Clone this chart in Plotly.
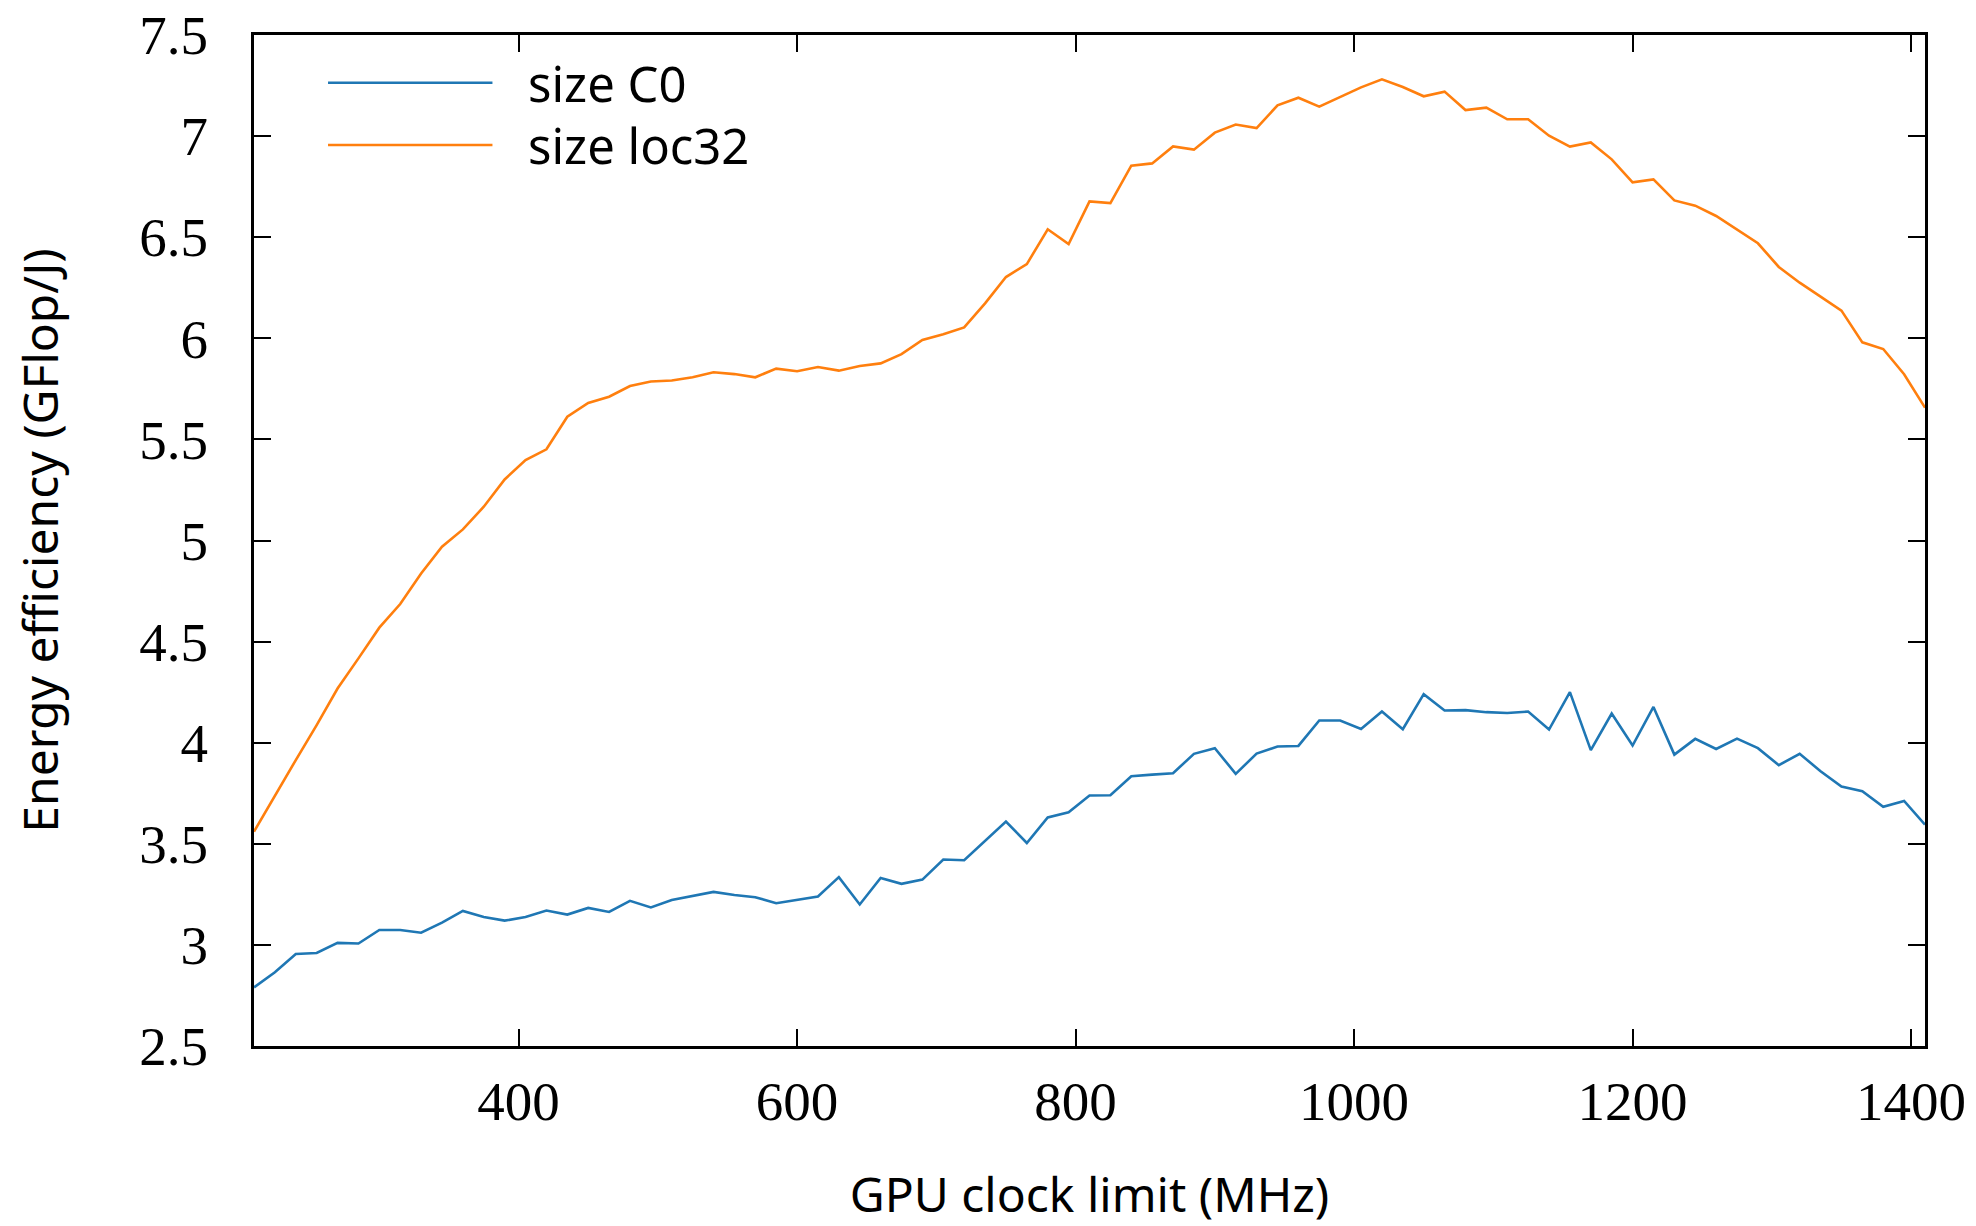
import plotly.graph_objects as go

# GPU clock limits (MHz)
clock_mhz = [210, 225, 240, 255, 270, 285, 300, 315, 330, 345, 360, 375, 390, 405, 420,
             435, 450, 465, 480, 495, 510, 525, 540, 555, 570, 585, 600, 615, 630, 645,
             660, 675, 690, 705, 720, 735, 750, 765, 780, 795, 810, 825, 840, 855, 870,
             885, 900, 915, 930, 945, 960, 975, 990, 1005, 1020, 1035, 1050, 1065, 1080,
             1095, 1110, 1125, 1140, 1155, 1170, 1185, 1200, 1215, 1230, 1245, 1260, 1275,
             1290, 1305, 1320, 1335, 1350, 1365, 1380, 1395, 1410]

# Energy efficiency (GFlop/J)
eff_c0 = [2.79, 2.865, 2.955, 2.96, 3.01, 3.007, 3.074, 3.074, 3.06, 3.11, 3.168, 3.138,
          3.12, 3.138, 3.17, 3.15, 3.183, 3.163, 3.218, 3.185, 3.222, 3.242, 3.262, 3.247,
          3.236, 3.206, 3.224, 3.239, 3.335, 3.20, 3.331, 3.302, 3.323, 3.422, 3.419, 3.513,
          3.61, 3.504, 3.63, 3.656, 3.739, 3.74, 3.834, 3.842, 3.849, 3.945, 3.973, 3.846,
          3.946, 3.981, 3.984, 4.11, 4.11, 4.068, 4.154, 4.067, 4.24, 4.159, 4.161, 4.151,
          4.147, 4.154, 4.065, 4.25, 3.963, 4.144, 3.986, 4.177, 3.941, 4.019, 3.969, 4.02,
          3.973, 3.889, 3.945, 3.859, 3.783, 3.76, 3.683, 3.712, 3.595]

eff_loc32 = [3.56, 3.739, 3.914, 4.087, 4.268, 4.417, 4.569, 4.686, 4.837, 4.969, 5.055,
             5.167, 5.302, 5.398, 5.451, 5.612, 5.68, 5.711, 5.764, 5.786, 5.791, 5.807,
             5.832, 5.823, 5.807, 5.85, 5.837, 5.858, 5.84, 5.863, 5.876, 5.922, 5.992, 6.02,
             6.054, 6.173, 6.303, 6.367, 6.539, 6.466, 6.677, 6.669, 6.854, 6.865, 6.949,
             6.933, 7.017, 7.057, 7.04, 7.152, 7.19, 7.146, 7.192, 7.241, 7.281, 7.243,
             7.197, 7.22, 7.129, 7.141, 7.083, 7.083, 7.002, 6.948, 6.969, 6.885, 6.771,
             6.786, 6.682, 6.656, 6.605, 6.536, 6.47, 6.353, 6.275, 6.206, 6.137, 5.98,
             5.947, 5.822, 5.657]

series_names = ["size C0", "size loc32"]
series_colors = ["#1f77b4", "#ff7f0e"]

x_tickvals = [400, 600, 800, 1000, 1200, 1400]
x_ticktext = ["400", "600", "800", "1000", "1200", "1400"]
y_tickvals = [2.5, 3, 3.5, 4, 4.5, 5, 5.5, 6, 6.5, 7, 7.5]
y_ticktext = ["2.5", "3", "3.5", "4", "4.5", "5", "5.5", "6", "6.5", "7", "7.5"]

fig = go.Figure()
for name, ys, col in zip(series_names, [eff_c0, eff_loc32], series_colors):
    fig.add_trace(go.Scatter(x=clock_mhz, y=ys, mode="lines", name=name,
                             line=dict(color=col, width=2.6), showlegend=False))

# custom legend (long line samples as in the original)
legend_y = [0.9528, 0.8912]
for name, col, ly in zip(series_names, series_colors, legend_y):
    fig.add_shape(type="line", xref="paper", yref="paper", x0=0.0443, x1=0.1427,
                  y0=ly, y1=ly, line=dict(color=col, width=2.6))
    fig.add_annotation(xref="paper", yref="paper", x=0.1625, y=ly, text=name,
                       showarrow=False, xanchor="left", yanchor="middle",
                       font=dict(family="Noto Sans", size=49, color="black"))

serif = dict(family="Liberation Serif", size=55, color="black")
sans = dict(family="Noto Sans", size=48, color="black")

fig.update_layout(
    width=1976, height=1226,
    margin=dict(l=254, r=51, t=35, b=180, autoexpand=False),
    paper_bgcolor="white", plot_bgcolor="white",
    xaxis=dict(range=[210, 1410], tickvals=x_tickvals, ticktext=x_ticktext,
               ticks="inside", ticklen=17, tickwidth=2.2, tickcolor="black",
               showline=True, linecolor="black", linewidth=2.8, mirror="ticks",
               showgrid=False, zeroline=False, tickfont=serif, automargin=False,
               ticklabelstandoff=5, ticklabeloverflow="allow",
               title=dict(text="GPU clock limit (MHz)", font=sans, standoff=55)),
    yaxis=dict(range=[2.5, 7.5], tickvals=y_tickvals, ticktext=y_ticktext,
               ticks="inside", ticklen=17, tickwidth=2.2, tickcolor="black",
               showline=True, linecolor="black", linewidth=2.8, mirror="ticks",
               showgrid=False, zeroline=False, tickfont=serif, automargin=False,
               ticklabelstandoff=32, ticklabeloverflow="allow",
               title=dict(text="Energy efficiency (GFlop/J)", font=sans, standoff=66)),
)

# remove the default page margin so the figure fills the window exactly
fig.write_html("out.html", config={"displayModeBar": False},
               post_script="document.body.style.margin='0px';")
